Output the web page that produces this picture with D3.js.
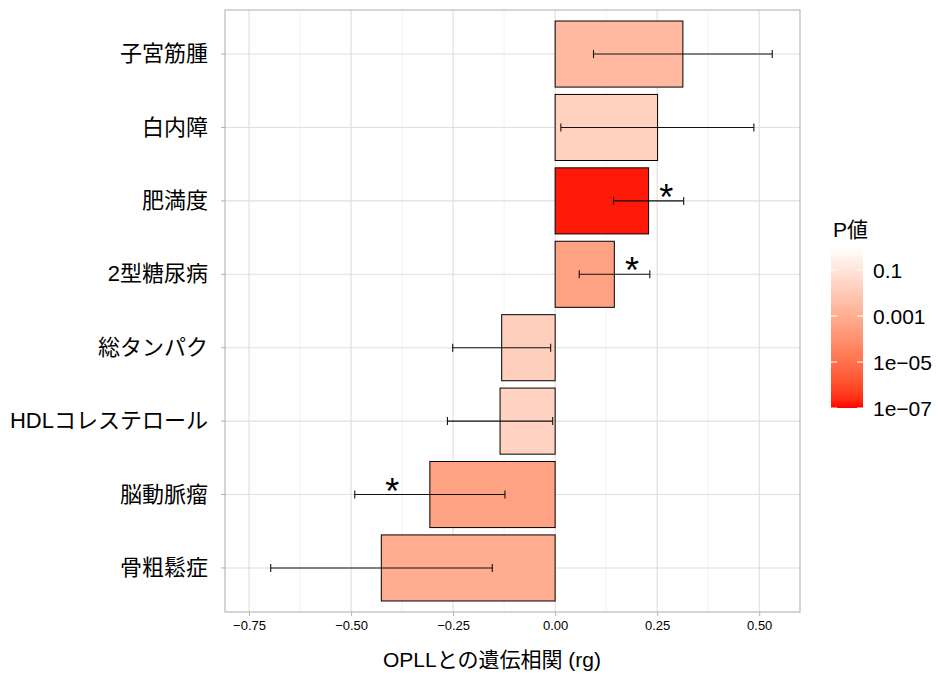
<!DOCTYPE html>
<html>
<head>
<meta charset="utf-8">
<script src="https://cdn.jsdelivr.net/npm/d3@7"></script>
<style>
  body { margin: 0; background: #fff; }
  text { font-family: "Liberation Sans", Arial, "Noto Sans CJK JP", sans-serif; fill: #000; }
</style>
</head>
<body>
<div id="chart-area"></div>
<script>
// values
let diseases = ["子宮筋腫", "白内障", "肥満度", "2型糖尿病", "総タンパク", "HDLコレステロール", "脳動脈瘤", "骨粗鬆症"];
let rg = [0.313, 0.251, 0.229, 0.145, -0.131, -0.135, -0.307, -0.426];
let ciLow = [0.094, 0.014, 0.143, 0.059, -0.251, -0.264, -0.491, -0.697];
let ciHigh = [0.532, 0.487, 0.315, 0.232, -0.011, -0.006, -0.123, -0.154];
let pValues = [0.0025, 0.019, 1.4e-7, 3.8e-4, 0.017, 0.022, 4e-4, 9e-4];
let significant = [false, false, true, true, false, false, true, false];

let xTicks = [-0.75, -0.5, -0.25, 0, 0.25, 0.5];
let xMinor = [-0.625, -0.375, -0.125, 0.125, 0.375];
let legendTicks = [0.1, 0.001, 1e-5, 1e-7];
let legendLabels = ["0.1", "0.001", "1e\u221205", "1e\u221207"];

let data = diseases.map((d, i) => ({
	name: d, rg: rg[i], lo: ciLow[i], hi: ciHigh[i], p: pValues[i], sig: significant[i]
}));

let W = 938, H = 675;
let panel = {left: 225, right: 800, top: 10, bottom: 612};

let svg = d3.select("#chart-area").append("svg")
	.attr("width", W)
	.attr("height", H);

// Scales
let x = d3.scaleLinear()
	.domain([-0.809, 0.600])
	.range([panel.left, panel.right]);

let y = d3.scaleBand()
	.domain(diseases)
	.range([panel.top, panel.bottom])
	.paddingInner(0.1)
	.paddingOuter(0.15);

let color = d3.scaleLog()
	.domain([1e-7, 1])
	.range(["#FF0000", "#FFFFFF"])
	.interpolate(d3.interpolateLab);

// grid
let grid = svg.append("g");
grid.selectAll(".minor")
	.data(xMinor)
	.enter().append("line")
	.attr("x1", d => x(d)).attr("x2", d => x(d))
	.attr("y1", panel.top).attr("y2", panel.bottom)
	.attr("stroke", "#EBEBEB")
	.attr("stroke-width", 0.6);

grid.selectAll(".major")
	.data(xTicks)
	.enter().append("line")
	.attr("x1", d => x(d)).attr("x2", d => x(d))
	.attr("y1", panel.top).attr("y2", panel.bottom)
	.attr("stroke", "#DEDEDE")
	.attr("stroke-width", 1.1);

grid.selectAll(".hmajor")
	.data(diseases)
	.enter().append("line")
	.attr("x1", panel.left).attr("x2", panel.right)
	.attr("y1", d => y(d) + y.bandwidth() / 2)
	.attr("y2", d => y(d) + y.bandwidth() / 2)
	.attr("stroke", "#DEDEDE")
	.attr("stroke-width", 1.1);

// bars
svg.selectAll(".bar")
	.data(data)
	.enter().append("rect")
	.attr("x", d => x(Math.min(0, d.rg)))
	.attr("width", d => Math.abs(x(d.rg) - x(0)))
	.attr("y", d => y(d.name))
	.attr("height", y.bandwidth())
	.attr("fill", d => color(d.p))
	.attr("stroke", "#000")
	.attr("stroke-width", 1);

// error bars
let capH = 4;
let err = svg.selectAll(".err")
	.data(data)
	.enter().append("g")
	.attr("transform", d => "translate(0," + (y(d.name) + y.bandwidth() / 2) + ")");

err.append("line")
	.attr("x1", d => x(d.lo)).attr("x2", d => x(d.hi))
	.attr("stroke", "#111").attr("stroke-width", 1.1);
err.append("line")
	.attr("x1", d => x(d.lo)).attr("x2", d => x(d.lo))
	.attr("y1", -capH).attr("y2", capH)
	.attr("stroke", "#111").attr("stroke-width", 1.1);
err.append("line")
	.attr("x1", d => x(d.hi)).attr("x2", d => x(d.hi))
	.attr("y1", -capH).attr("y2", capH)
	.attr("stroke", "#111").attr("stroke-width", 1.1);

// significance stars
svg.selectAll(".star")
	.data(data.filter(d => d.sig))
	.enter().append("text")
	.attr("x", d => x(d.rg > 0 ? (d.rg + d.hi) / 2 : (d.rg + d.lo) / 2))
	.attr("y", d => y(d.name) + y.bandwidth() / 2 + 9)
	.attr("text-anchor", "middle")
	.style("font-size", "36px")
	.text("*");

// panel border
svg.append("rect")
	.attr("x", panel.left).attr("y", panel.top)
	.attr("width", panel.right - panel.left)
	.attr("height", panel.bottom - panel.top)
	.attr("fill", "none")
	.attr("stroke", "#B3B3B3")
	.attr("stroke-width", 1.1);

// axes
let xAxis = d3.axisBottom(x)
	.tickValues(xTicks)
	.tickSize(4)
	.tickPadding(5)
	.tickFormat(d3.format(".2f"));

let gx = svg.append("g")
	.attr("transform", "translate(0," + panel.bottom + ")")
	.call(xAxis);
gx.select(".domain").remove();
gx.selectAll(".tick line").attr("stroke", "#B3B3B3");
gx.selectAll(".tick text")
	.style("font-size", "13px")
	.attr("fill", "#1a1a1a")
	.text(d => d3.format(".2f")(d).replace("-", "\u2212"));

let yAxis = d3.axisLeft(y)
	.tickSize(4)
	.tickPadding(13);

let gy = svg.append("g")
	.attr("transform", "translate(" + panel.left + ",0)")
	.call(yAxis);
gy.select(".domain").remove();
gy.selectAll(".tick line").attr("stroke", "#B3B3B3");
gy.selectAll(".tick text")
	.style("font-size", "22px")
	.attr("fill", "#000");

// axis title
svg.append("text")
	.attr("x", 492)
	.attr("y", 667)
	.attr("text-anchor", "middle")
	.style("font-size", "21px")
	.text("OPLLとの遺伝相関 (rg)");

// legend
let leg = {x: 831, w: 32, top: 247, bottom: 408};
let ly = d3.scaleLog()
	.domain([1e-7, 1])
	.range([leg.bottom, leg.top]);

let defs = svg.append("defs");
let grad = defs.append("linearGradient")
	.attr("id", "pgrad")
	.attr("x1", 0).attr("y1", 1)
	.attr("x2", 0).attr("y2", 0);
let stops = d3.range(0, 1.0001, 0.05);
grad.selectAll("stop")
	.data(stops)
	.enter().append("stop")
	.attr("offset", d => d)
	.attr("stop-color", d => color(Math.pow(10, -7 + 7 * d)));

svg.append("rect")
	.attr("x", leg.x).attr("y", leg.top)
	.attr("width", leg.w).attr("height", leg.bottom - leg.top)
	.attr("fill", "url(#pgrad)");

let lt = svg.selectAll(".ltick")
	.data(legendTicks)
	.enter().append("g");
lt.append("line")
	.attr("x1", leg.x).attr("x2", leg.x + 6)
	.attr("y1", d => ly(d)).attr("y2", d => ly(d))
	.attr("stroke", "#fff").attr("stroke-width", 1);
lt.append("line")
	.attr("x1", leg.x + leg.w - 6).attr("x2", leg.x + leg.w)
	.attr("y1", d => ly(d)).attr("y2", d => ly(d))
	.attr("stroke", "#fff").attr("stroke-width", 1);
lt.append("text")
	.attr("x", 873)
	.attr("y", d => ly(d))
	.attr("dy", "0.36em")
	.style("font-size", "21px")
	.text((d, i) => legendLabels[i]);

svg.append("text")
	.attr("x", 833)
	.attr("y", 237)
	.style("font-size", "21px")
	.text("P値");
</script>
</body>
</html>
